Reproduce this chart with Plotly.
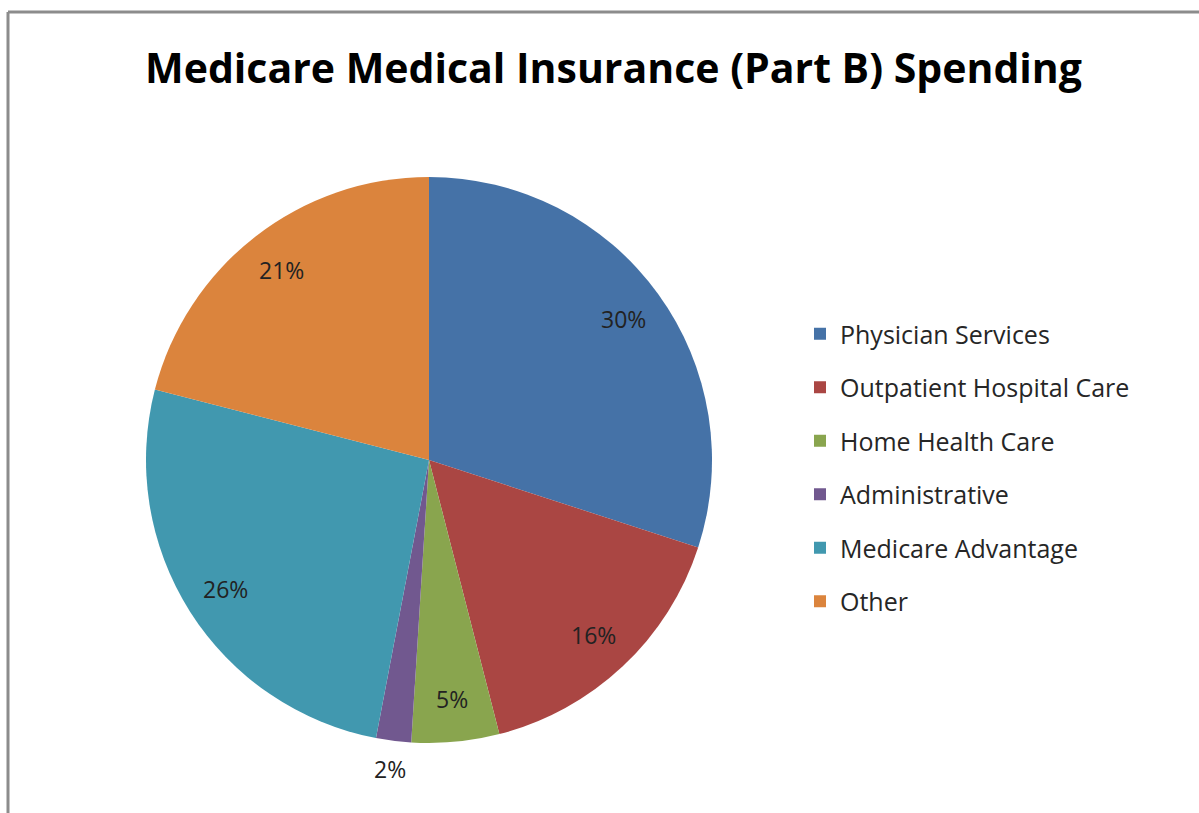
import math
import plotly.graph_objects as go

categories = ["Physician Services", "Outpatient Hospital Care", "Home Health Care",
              "Administrative", "Medicare Advantage", "Other"]
values = [30, 16, 5, 2, 26, 21]
colors = ["#4572A7", "#AA4643", "#89A54E", "#71588F", "#4198AF", "#DB843D"]
label_outside = [False, False, False, True, False, False]

W, H = 1199, 813
CX, CY, R = 429, 460, 283  # pie centre / radius in pixels
FONT = "Open Sans"

fig = go.Figure()
fig.add_trace(go.Pie(
    labels=categories, values=values, sort=False, direction="clockwise",
    rotation=0, marker=dict(colors=colors, line=dict(width=0)),
    textinfo="none", showlegend=False, hoverinfo="label+percent",
    domain=dict(x=[(CX - R) / W, (CX + R) / W], y=[1 - (CY + R) / H, 1 - (CY - R) / H]),
))

# legend entries (one group per category so spacing can be controlled)
for cat, col in zip(categories, colors):
    fig.add_trace(go.Scatter(
        x=[None], y=[None], mode="markers", name=cat, legendgroup=cat,
        marker=dict(symbol="square", size=12, color=col), showlegend=True,
    ))

# percentage labels placed at slice mid-angles
total = sum(values)
cum = 0
annotations = []
for v, outside in zip(values, label_outside):
    mid = (cum + v / 2) / total * 2 * math.pi
    cum += v
    rr = R * (1.1 if outside else 0.85)
    px = CX + rr * math.sin(mid)
    py = CY - rr * math.cos(mid)
    annotations.append(dict(
        x=px / W, y=1 - py / H, xref="paper", yref="paper", showarrow=False,
        text=f"{round(v / total * 100)}%", font=dict(family=FONT, size=23, color="#222222"),
        xanchor="center", yanchor="middle",
    ))

annotations.append(dict(
    x=613 / W, y=1 - 67 / H, xref="paper", yref="paper", showarrow=False,
    text="<b>Medicare Medical Insurance (Part B) Spending</b>",
    font=dict(family=FONT, size=41, color="#000000"), xanchor="center", yanchor="middle",
))

fig.update_layout(
    width=W, height=H, margin=dict(l=0, r=0, t=0, b=0),
    paper_bgcolor="white", plot_bgcolor="white",
    xaxis=dict(visible=False), yaxis=dict(visible=False),
    annotations=annotations,
    legend=dict(x=800 / W, y=1 - 311 / H, xanchor="left", yanchor="top",
                font=dict(family=FONT, size=25, color="#262626"),
                tracegroupgap=18, traceorder="grouped", bgcolor="rgba(0,0,0,0)"),
    shapes=[
        dict(type="line", xref="paper", yref="paper", x0=8 / W, x1=8 / W, y0=0, y1=1 - 12 / H,
             line=dict(color="#8c8c8c", width=3)),
        dict(type="line", xref="paper", yref="paper", x0=8 / W, x1=1, y0=1 - 12 / H, y1=1 - 12 / H,
             line=dict(color="#8c8c8c", width=3)),
    ],
)

fig.write_html("out.html")
